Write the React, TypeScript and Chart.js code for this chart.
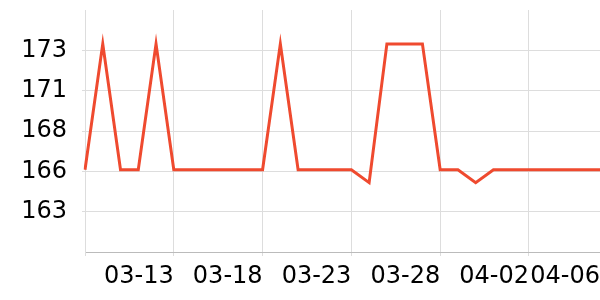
import React, { useEffect, useRef } from "react";
import { Chart, registerables } from "chart.js";

Chart.register(...registerables);

const dates = [
  "03-08", "03-09", "03-10", "03-11", "03-12", "03-13", "03-14", "03-15", "03-16", "03-17",
  "03-18", "03-19", "03-20", "03-21", "03-22", "03-23", "03-24", "03-25", "03-26", "03-27",
  "03-28", "03-29", "03-30", "03-31", "04-01", "04-02", "04-03", "04-04", "04-05", "04-06",
];
const values = [
  165.6, 173.4, 165.6, 165.6, 173.4, 165.6, 165.6, 165.6, 165.6, 165.6,
  165.6, 173.4, 165.6, 165.6, 165.6, 165.6, 164.8, 173.4, 173.4, 173.4,
  165.6, 165.6, 164.8, 165.6, 165.6, 165.6, 165.6, 165.6, 165.6, 165.6,
];
const shownLabelIdx = [5, 10, 15, 20, 25, 29];
const gridIdx = [0, 5, 10, 15, 20, 25];
const yMin = 160.5;
const yMax = 175.5;
const yStep = 2.5;

export default function App() {
  const ref = useRef<HTMLCanvasElement | null>(null);
  useEffect(() => {
    document.body.style.margin = "0";
    const font = { family: "DejaVu Sans", size: 24 };
    const zeroPad = (s: any) => {
      s.paddingTop = 0;
      s.paddingBottom = 0;
      s.paddingLeft = 0;
      s.paddingRight = 0;
    };
    const chart = new Chart(ref.current!, {
      type: "line",
      data: {
        labels: dates,
        datasets: [
          {
            data: values,
            borderColor: "#ef4a2f",
            backgroundColor: "#ef4a2f",
            borderWidth: 3,
            pointRadius: 0,
            tension: 0,
            fill: false,
          },
        ],
      },
      options: {
        animation: false,
        responsive: false,
        maintainAspectRatio: false,
        layout: { padding: { top: 10, right: 0, left: 0, bottom: 0 } },
        plugins: { legend: { display: false }, tooltip: { enabled: false } },
        scales: {
          x: {
            type: "category",
            offset: false,
            afterFit: (s: any) => {
              s.height = 48;
              zeroPad(s);
            },
            border: { color: "#bbbbbb", width: 1 },
            grid: {
              color: (ctx: any) => (gridIdx.includes(ctx.index) ? "#dddddd" : "rgba(0,0,0,0)"),
              tickLength: 4,
            },
            ticks: {
              autoSkip: false,
              maxRotation: 0,
              minRotation: 0,
              align: "end",
              padding: 6,
              color: "#000",
              font,
              callback: (_v: any, i: number) => (shownLabelIdx.includes(i) ? dates[i] : ""),
            },
          },
          y: {
            min: yMin,
            max: yMax,
            afterFit: (s: any) => {
              s.width = 85;
              zeroPad(s);
            },
            afterBuildTicks: (s: any) => {
              s.ticks = s.ticks.filter((t: any) => t.value > yMin + 0.01 && t.value < yMax - 0.01);
            },
            border: { color: "#dddddd", width: 1 },
            grid: { color: "#dddddd", tickLength: 3 },
            ticks: {
              stepSize: yStep,
              padding: 15,
              color: "#000",
              font,
              callback: (v: any) => Number(v).toFixed(0),
            },
          },
        },
      },
    });
    return () => chart.destroy();
  }, []);
  return <canvas ref={ref} width={600} height={300} style={{ display: "block" }} />;
}
